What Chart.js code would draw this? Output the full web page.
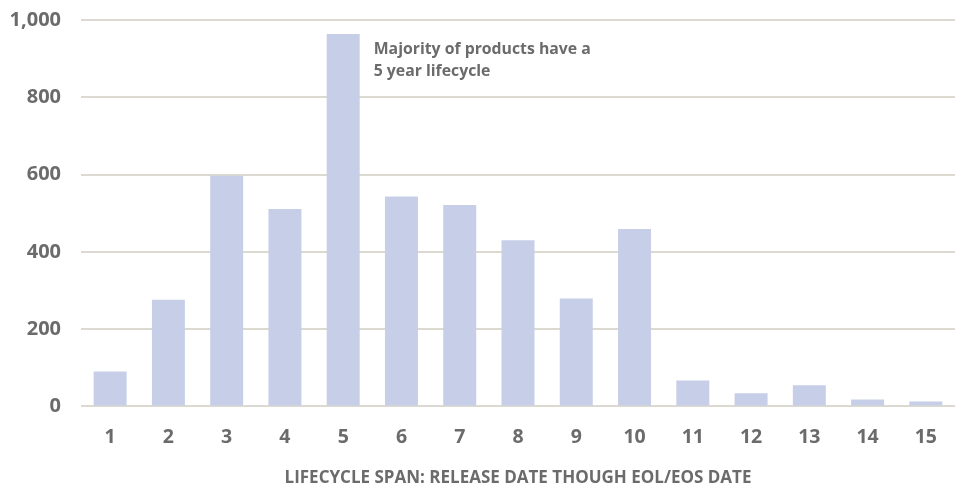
<!DOCTYPE html>
<html>
<head>
<meta charset="utf-8">
<script src="https://cdn.jsdelivr.net/npm/chart.js@4"></script>
<style>
  html, body { margin: 0; padding: 0; background: #fff; }
  #wrap { width: 958px; height: 485px; }
</style>
</head>
<body>
<div id="wrap"><canvas id="spanChart" width="958" height="485"></canvas></div>
<script>
'use strict'

const years = ['1', '2', '3', '4', '5', '6', '7', '8', '9', '10', '11', '12', '13', '14', '15'];
const products = [90, 276, 597, 511, 964, 543, 521, 430, 279, 459, 67, 34, 55, 18, 13];
const yTicks = [0, 200, 400, 600, 800, 1000];
const note = ['Majority of products have a', '5 year lifecycle'];
const axisTitle = 'LIFECYCLE SPAN: RELEASE DATE THOUGH EOL/EOS DATE';

{
  const grey = '#6b6b6b';
  const font = 'Open Sans';

  // text next to the tallest bar
  const notePlugin = {
    id: 'note',
    afterDatasetsDraw(chart) {
      const ctx = chart.ctx;
      const bar = chart.getDatasetMeta(0).data[4];
      ctx.save();
      ctx.fillStyle = grey;
      ctx.font = 'bold 15.8px ' + font;
      ctx.textBaseline = 'middle';
      ctx.fillText(note[0], bar.x + bar.width / 2 + 14, 49);
      ctx.fillText(note[1], bar.x + bar.width / 2 + 14, 71);
      ctx.restore();
    }
  };

  const ctx = document.getElementById('spanChart').getContext('2d');
  new Chart(ctx, {
    type: 'bar',
    data: {
      labels: years,
      datasets: [{
        data: products,
        backgroundColor: '#c7cfe8',
        barPercentage: 0.566,
        categoryPercentage: 1.0
      }]
    },
    options: {
      responsive: false,
      animation: false,
      layout: { padding: { top: 0, right: 3, left: 11, bottom: 0 } },
      scales: {
        x: {
          grid: { display: false, drawTicks: false },
          border: { display: false },
          ticks: {
            color: grey,
            font: { family: font, size: 19.5, weight: 'bold' },
            padding: 19
          },
          title: {
            display: true,
            text: axisTitle,
            color: grey,
            font: { family: font, size: 17, weight: 'bold', lineHeight: 0.6 },
            padding: { top: 5, bottom: 2 }
          }
        },
        y: {
          min: 0,
          max: 1000,
          afterBuildTicks(axis) {
            axis.ticks = yTicks.map(v => ({ value: v }));
          },
          afterFit(axis) {
            axis.width = 70;
          },
          grid: { color: '#dcd9d1', lineWidth: 2, drawTicks: true, tickLength: 12, tickColor: 'rgba(0,0,0,0)' },
          border: { display: false },
          ticks: {
            color: grey,
            padding: 8,
            font: { family: font, size: 20, weight: 'bold' },
            callback: v => v.toLocaleString('en-US')
          }
        }
      },
      plugins: {
        legend: { display: false },
        tooltip: { enabled: false }
      }
    },
    plugins: [notePlugin]
  });
}
</script>
</body>
</html>
